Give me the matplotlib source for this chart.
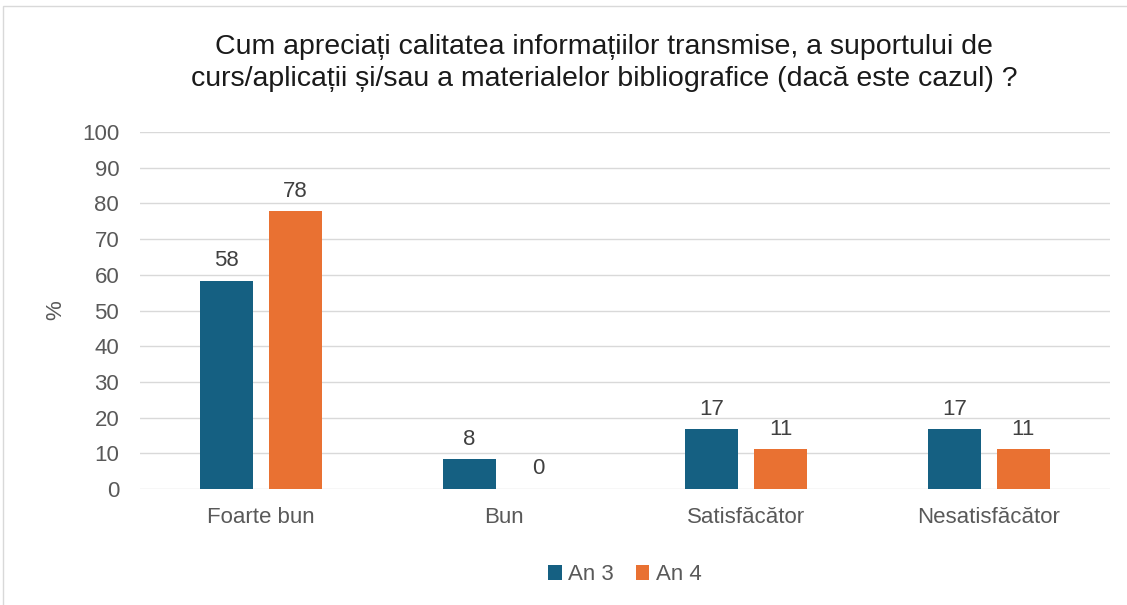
import numpy as np
import matplotlib.pyplot as plt
from matplotlib.patches import Rectangle

categories = ['Foarte bun', 'Bun', 'Satisfăcător', 'Nesatisfăcător']
an3 = [58.3, 8.3, 16.7, 16.7]
an4 = [77.8, 0, 11.1, 11.1]
series_names = ['An 3', 'An 4']
title = ('Cum apreciați calitatea informațiilor transmise, a suportului de\n'
         'curs/aplicații și/sau a materialelor bibliografice (dacă este cazul) ?')

blue = '#156082'
orange = '#E97132'
txt = '#595959'

plt.rcParams['font.family'] = ['Liberation Sans', 'DejaVu Sans']

fig = plt.figure(figsize=(11.27, 6.05), dpi=100)
ax = fig.add_axes([0.1242, 0.1917, 0.8608, 0.5901])

x = np.arange(len(categories))
w = 0.219
off = 0.142
b1 = ax.bar(x - off, an3, w, color=blue, label=series_names[0], zorder=3)
b2 = ax.bar(x + off, an4, w, color=orange, label=series_names[1], zorder=3)
for bars in (b1, b2):
    for r in bars:
        h = r.get_height()
        ax.annotate(f'{h:.0f}', (r.get_x() + r.get_width() / 2, h),
                    xytext=(0, 7), textcoords='offset points',
                    ha='center', va='bottom', fontsize=16, color='#404040')

ax.set_xlim(-0.5, 3.5)
ax.set_ylim(0, 100)
ax.set_yticks(range(0, 101, 10))
ax.set_xticks(x)
ax.set_xticklabels(categories)
ax.tick_params(axis='both', length=0, labelsize=16, labelcolor=txt)
ax.tick_params(axis='y', pad=15)
ax.tick_params(axis='x', pad=13)
ax.grid(axis='y', color='#D9D9D9', linewidth=1, zorder=0)
for s in ax.spines.values():
    s.set_visible(False)
ax.set_ylabel('%', fontsize=16, color=txt, labelpad=11)

fig.text(0.536, 0.896, title, ha='center', va='center', fontsize=20.5,
         color='#1a1a1a', linespacing=1.33)

ax.legend(loc='upper center', bbox_to_anchor=(0.5, -0.155), ncol=2, frameon=False,
          fontsize=16, labelcolor=txt, handlelength=0.6, handleheight=0.6,
          handletextpad=0.3, columnspacing=1.0)

fig.patches.append(Rectangle((0.003, -0.1), 1.2, 1.09, transform=fig.transFigure,
                             fill=False, edgecolor='#D9D9D9', linewidth=1))

fig.savefig('out.png', dpi=100)
